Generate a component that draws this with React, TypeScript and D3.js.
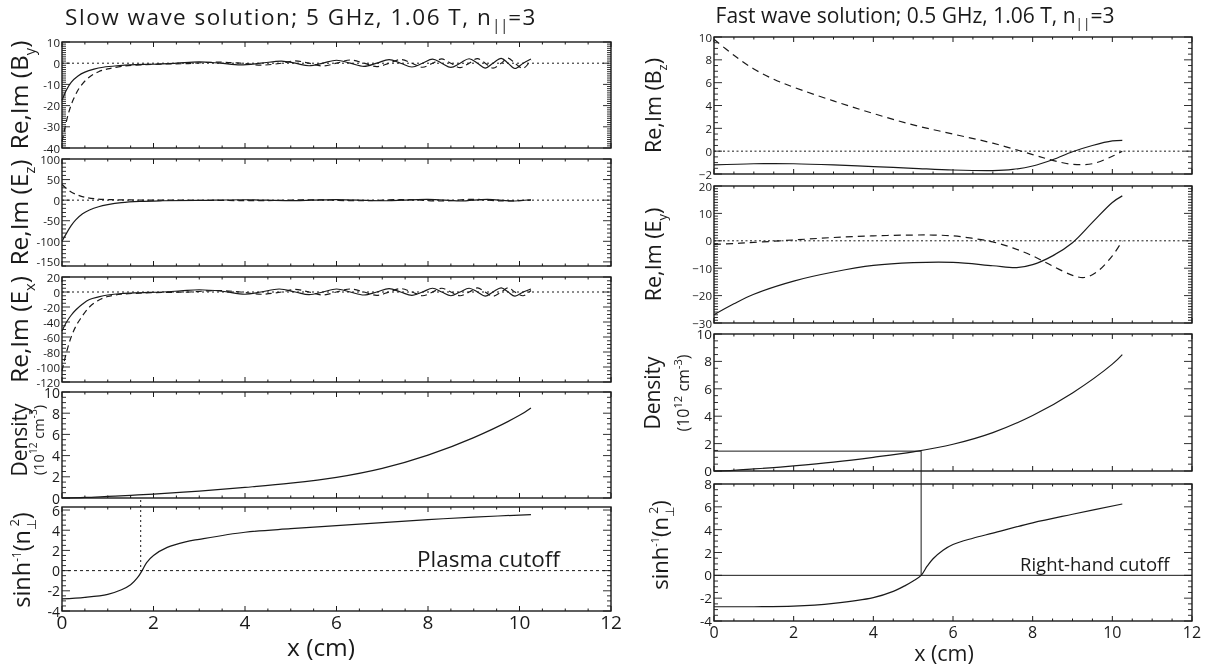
import React from 'react';
import * as d3 from 'd3';

type Pt = [number, number];

// x axis (cm)
const xTicks = [0, 2, 4, 6, 8, 10, 12];

// ---- slow wave, 5 GHz (left column) ----
const slowByRe: Pt[] = [
  [0, -17.5], [0.1, -12.5], [0.2, -9], [0.35, -6], [0.5, -4.2], [0.7, -2.8], [0.9, -1.9], [1.2, -1.2],
  [1.6, -0.7], [2.0, -0.5], [2.5, 0], [3.0, 0.6], [3.45, 0], [3.9, -0.8], [4.35, 0], [4.8, 1.0], [5.1, 0],
  [5.4, -1.2], [5.7, 0], [6.0, 1.4], [6.3, 0], [6.6, -1.5], [6.88, 0], [7.15, 1.7], [7.4, 0], [7.65, -1.8],
  [7.88, 0], [8.1, 1.9], [8.3, 0], [8.5, -2.0], [8.7, 0], [8.9, 2.1], [9.08, 0], [9.25, -2.3], [9.42, 0],
  [9.6, 2.3], [9.75, 0], [9.9, -2.5], [10.08, 0], [10.25, 2.0],
];
const slowByIm: Pt[] = [
  [0, -37], [0.08, -29], [0.15, -23], [0.25, -17], [0.4, -11], [0.6, -6.5], [0.8, -4], [1.0, -2.7],
  [1.3, -1.5], [1.7, -0.8], [2.2, -0.4], [2.7, -0.2], [3.4, 0.5], [3.9, 0], [4.35, -0.9], [4.8, 0],
  [5.1, 1.1], [5.4, 0], [5.7, -1.3], [6.0, 0], [6.3, 1.5], [6.6, 0], [6.88, -1.6], [7.15, 0], [7.4, 1.7],
  [7.65, 0], [7.88, -1.9], [8.1, 0], [8.3, 2.0], [8.5, 0], [8.7, -2.1], [8.9, 0], [9.08, 2.2], [9.25, 0],
  [9.42, -2.3], [9.6, 0], [9.75, 2.4], [9.9, 0], [10.08, -2.4], [10.25, 1.5],
];
const slowEzRe: Pt[] = [
  [0, -100], [0.1, -80], [0.2, -62], [0.3, -48], [0.45, -33], [0.6, -24], [0.8, -16], [1.0, -11],
  [1.3, -6], [1.7, -3], [2.2, -1.5], [3.0, -0.5], [4.0, 1], [5.0, -1], [6.0, 1.5], [7.0, -1.5],
  [8.0, 2], [8.7, -2], [9.3, 2], [9.8, -2], [10.25, 1],
];
const slowEzIm: Pt[] = [
  [0, 38], [0.1, 28], [0.2, 20], [0.35, 12], [0.5, 7], [0.75, 3], [1.0, 1.5], [1.5, 0.5], [2.5, 0],
  [4.5, -1], [5.5, 1], [6.5, -1.5], [7.5, 1.5], [8.3, -2], [9.0, 2], [9.6, -2], [10.25, 0],
];
const slowExRe: Pt[] = [
  [0, -52], [0.1, -40], [0.2, -31], [0.3, -24], [0.45, -16], [0.6, -10], [0.8, -6.5], [1.0, -4],
  [1.3, -2], [1.7, -1], [2.2, 0], [2.6, 1.5], [3.0, 3], [3.5, 1], [4.0, -3], [4.35, 0], [4.75, 4],
  [5.1, 0], [5.4, -3.5], [5.7, 0], [6.0, 4], [6.3, 0], [6.6, -4], [6.88, 0], [7.15, 4.5], [7.4, 0],
  [7.65, -4.5], [7.88, 0], [8.1, 5], [8.3, 0], [8.5, -5], [8.7, 0], [8.9, 5], [9.08, 0], [9.25, -5.5],
  [9.42, 0], [9.6, 5.5], [9.75, 0], [9.9, -5.5], [10.08, 0], [10.25, 4],
];
const slowExIm: Pt[] = [
  [0, -105], [0.1, -80], [0.2, -60], [0.3, -46], [0.4, -36], [0.6, -20], [0.8, -11], [1.0, -6],
  [1.3, -3], [1.7, -1.5], [2.3, -0.5], [2.8, 0], [3.4, 2], [3.9, 0], [4.35, -3], [4.8, 0], [5.1, 3.5],
  [5.4, 0], [5.7, -4], [6.0, 0], [6.3, 4], [6.6, 0], [6.88, -4.5], [7.15, 0], [7.4, 4.5], [7.65, 0],
  [7.88, -5], [8.1, 0], [8.3, 5], [8.5, 0], [8.7, -5], [8.9, 0], [9.08, 5.5], [9.25, 0], [9.42, -5.5],
  [9.6, 0], [9.75, 5.5], [9.9, 0], [10.08, -5], [10.25, 2],
];
const density: Pt[] = [
  [0, 0], [0.5, 0.05], [1, 0.15], [1.5, 0.25], [2, 0.37], [3, 0.65], [4, 1.0], [5, 1.4], [6, 1.95],
  [7, 2.8], [8, 4.05], [9, 5.7], [10, 7.8], [10.25, 8.5],
];
const slowSinh: Pt[] = [
  [0, -2.8], [0.5, -2.65], [1.0, -2.35], [1.3, -1.9], [1.5, -1.4], [1.65, -0.7], [1.75, 0], [1.85, 0.8],
  [2.0, 1.5], [2.3, 2.3], [2.7, 2.85], [3.0, 3.1], [4.0, 3.8], [5.0, 4.15], [6.0, 4.45], [7.0, 4.75],
  [8.0, 5.05], [9.0, 5.3], [10.25, 5.55],
];
const slowCutoffX = 1.72;

// ---- fast wave, 0.5 GHz (right column) ----
const fastBzRe: Pt[] = [
  [0, -1.2], [1, -1.1], [2, -1.1], [3, -1.2], [4, -1.35], [5, -1.5], [6, -1.65], [7, -1.7], [7.5, -1.6],
  [8, -1.3], [8.5, -0.75], [9, -0.05], [9.5, 0.5], [10, 0.9], [10.25, 0.95],
];
const fastBzIm: Pt[] = [
  [0, 9.8], [0.5, 8.4], [1.0, 7.2], [1.5, 6.3], [2, 5.6], [3, 4.4], [4, 3.3], [5, 2.3], [6, 1.5],
  [7, 0.7], [8, -0.3], [8.5, -0.8], [9, -1.15], [9.5, -1.1], [10, -0.45], [10.25, 0],
];
const fastEyRe: Pt[] = [
  [0, -27], [0.5, -23], [1, -19.5], [2, -14.7], [3, -11.4], [4, -9], [5, -8], [6, -7.9], [7, -9.1],
  [7.6, -9.8], [8, -8.7], [8.5, -5.5], [9, -0.7], [9.5, 6.7], [10, 14], [10.25, 16.4],
];
const fastEyIm: Pt[] = [
  [0, -1.3], [0.5, -1], [1, -0.6], [2, 0.3], [3, 1.2], [4, 1.8], [5, 2.1], [5.5, 2.1], [6, 1.8],
  [6.5, 0.9], [7, -0.4], [7.5, -2.6], [8, -5.5], [8.5, -9.2], [9, -12.6], [9.3, -13.4], [9.6, -11.5],
  [10, -5.5], [10.25, 0],
];
const fastSinh: Pt[] = [
  [0, -2.75], [1, -2.75], [2, -2.7], [3, -2.45], [4, -1.95], [4.5, -1.4], [4.8, -0.9], [5.0, -0.5],
  [5.2, 0], [5.35, 0.8], [5.5, 1.45], [5.75, 2.2], [6, 2.7], [6.5, 3.25], [7, 3.7], [8, 4.6], [9, 5.35],
  [10.25, 6.25],
];
const fastCutoffX = 5.2;
const fastCutoffDensity = 1.45;

// y tick labels
const byTicks = [-40, -30, -20, -10, 0, 10];
const ezTicks = [-150, -100, -50, 0, 50, 100];
const exTicks = [-120, -100, -80, -60, -40, -20, 0, 20];
const densTicks = [0, 2, 4, 6, 8, 10];
const slowSinhTicks = [-4, -2, 0, 2, 4, 6];
const bzTicks = [-2, 0, 2, 4, 6, 8, 10];
const eyTicks = [-30, -20, -10, 0, 10, 20];
const fastSinhTicks = [-4, -2, 0, 2, 4, 6, 8];

const FONT = "'Open Sans', 'DejaVu Sans', sans-serif";
const INK = '#1a1a1a';

interface Series { data: Pt[]; dash?: string }
interface Spec {
  left: number; right: number; top: number; bottom: number;
  domain: [number, number]; ticks: number[]; minor: number;
  tickFont: number; minus: string; series: Series[];
  zero?: string; xLabels?: { size: number; dy: number };
}

const scales = (s: Spec) => ({
  x: d3.scaleLinear().domain([0, 12]).range([s.left, s.right]),
  y: d3.scaleLinear().domain(s.domain).range([s.bottom, s.top]),
});

function Panel({ s }: { s: Spec }) {
  const { x, y } = scales(s);
  const line = d3.line<Pt>().x(d => x(d[0])).y(d => y(d[1])).curve(d3.curveCatmullRom.alpha(0.5));
  const xMinor = d3.range(0, 25).map(i => i * 0.5);
  const lo = Math.ceil(s.domain[0] / s.minor - 1e-9);
  const hi = Math.floor(s.domain[1] / s.minor + 1e-9);
  const yMinor = d3.range(lo, hi + 1).map(i => i * s.minor);
  const isMajorY = (v: number) => s.ticks.some(t => Math.abs(t - v) < 1e-6);
  const fmt = (v: number) => (v < 0 ? s.minus + Math.abs(v) : String(v));
  return (
    <g>
      {s.zero && (
        <line x1={s.left} x2={s.right} y1={y(0)} y2={y(0)} stroke={INK} strokeWidth={1}
          strokeDasharray={s.zero === 'solid' ? undefined : s.zero} />
      )}
      {s.series.map((se, i) => (
        <path key={i} d={line(se.data) || ''} fill="none" stroke={INK} strokeWidth={1.2}
          strokeDasharray={se.dash} />
      ))}
      {xMinor.map(v => {
        const len = v % 2 === 0 ? 5 : 2.5;
        return (
          <g key={'x' + v}>
            <line x1={x(v)} x2={x(v)} y1={s.top} y2={s.top + len} stroke={INK} strokeWidth={1} />
            <line x1={x(v)} x2={x(v)} y1={s.bottom} y2={s.bottom - len} stroke={INK} strokeWidth={1} />
          </g>
        );
      })}
      {yMinor.map(v => {
        const len = isMajorY(v) ? 8 : 4;
        return (
          <g key={'y' + v}>
            <line x1={s.left} x2={s.left + len} y1={y(v)} y2={y(v)} stroke={INK} strokeWidth={0.9} />
            <line x1={s.right} x2={s.right - len} y1={y(v)} y2={y(v)} stroke={INK} strokeWidth={0.9} />
          </g>
        );
      })}
      <rect x={s.left} y={s.top} width={s.right - s.left} height={s.bottom - s.top}
        fill="none" stroke={INK} strokeWidth={1.4} />
      {s.ticks.map(t => (
        <text key={'t' + t} x={s.left - 2} y={y(t)} fontSize={s.tickFont} textAnchor="end"
          dominantBaseline="central" fill={INK}>{fmt(t)}</text>
      ))}
      {s.xLabels && xTicks.map(t => (
        <text key={'xl' + t} x={x(t)} y={s.bottom + s.xLabels!.dy} fontSize={s.xLabels!.size}
          textAnchor="middle" fill={INK}>{t}</text>
      ))}
    </g>
  );
}

const sub = (t: string, size: number) => (
  <>
    <tspan dy={size * 0.3} fontSize={size * 0.6}>{t}</tspan>
    <tspan dy={-size * 0.3}>{')'}</tspan>
  </>
);

function ReIm({ cx, cy, size, comp, label }: { cx: number; cy: number; size: number; comp: string; label: string }) {
  return (
    <text transform={`translate(${cx},${cy}) rotate(-90)`} textAnchor="middle" fontSize={size} fill={INK}>
      {'Re,Im (' + comp}{sub(label, size)}
    </text>
  );
}

function DensityLabel({ cx, cy, size, small, gap }: { cx: number; cy: number; size: number; small: number; gap: number }) {
  return (
    <g transform={`translate(${cx},${cy}) rotate(-90)`} fill={INK}>
      <text textAnchor="middle" fontSize={size}>Density</text>
      <text textAnchor="middle" y={gap} fontSize={small}>
        (10<tspan dy={-small * 0.45} fontSize={small * 0.7}>12</tspan>
        <tspan dy={small * 0.45}> cm</tspan>
        <tspan dy={-small * 0.45} fontSize={small * 0.7}>-3</tspan>
        <tspan dy={small * 0.45}>)</tspan>
      </text>
    </g>
  );
}

function SinhLabel({ cx, cy, size }: { cx: number; cy: number; size: number }) {
  return (
    <text transform={`translate(${cx},${cy}) rotate(-90)`} textAnchor="middle" fontSize={size} fill={INK}>
      sinh<tspan dy={-size * 0.4} fontSize={size * 0.5}>-1</tspan>
      <tspan dy={size * 0.4}>(n</tspan>
      <tspan dy={size * 0.25} fontSize={size * 0.55}>⊥</tspan>
      <tspan dx={-size * 0.33} dy={-size * 0.7} fontSize={size * 0.55}>2</tspan>
      <tspan dy={size * 0.45}>)</tspan>
    </text>
  );
}

export default function App() {
  const L = { left: 62, right: 611 };
  const R = { left: 714, right: 1192 };
  const dash = '6,4';

  const slow: Spec[] = [
    { ...L, top: 42, bottom: 148, domain: [-40, 10], ticks: byTicks, minor: 1, tickFont: 11.5, minus: '-',
      zero: '2,3', series: [{ data: slowByRe }, { data: slowByIm, dash }] },
    { ...L, top: 159, bottom: 266, domain: [-160, 100], ticks: ezTicks, minor: 10, tickFont: 11.5, minus: '-',
      zero: '2,3', series: [{ data: slowEzRe }, { data: slowEzIm, dash }] },
    { ...L, top: 277, bottom: 382, domain: [-120, 20], ticks: exTicks, minor: 5, tickFont: 11.5, minus: '-',
      zero: '2,3', series: [{ data: slowExRe }, { data: slowExIm, dash }] },
    { ...L, top: 392, bottom: 498, domain: [0, 10], ticks: densTicks, minor: 0.5, tickFont: 14, minus: '-',
      series: [{ data: density }] },
    { ...L, top: 507, bottom: 611, domain: [-4, 6.3], ticks: slowSinhTicks, minor: 0.5, tickFont: 14, minus: '-',
      zero: '3,3', series: [{ data: slowSinh }], xLabels: { size: 19, dy: 18 } },
  ];
  const fast: Spec[] = [
    { ...R, top: 37, bottom: 174, domain: [-2, 10], ticks: bzTicks, minor: 0.5, tickFont: 11.5, minus: '−',
      zero: '2,2.5', series: [{ data: fastBzRe }, { data: fastBzIm, dash: '7,5' }] },
    { ...R, top: 186, bottom: 323, domain: [-30, 20], ticks: eyTicks, minor: 1, tickFont: 11.5, minus: '−',
      zero: '2,2.5', series: [{ data: fastEyRe }, { data: fastEyIm, dash: '7,5' }] },
    { ...R, top: 334, bottom: 471, domain: [0, 10], ticks: densTicks, minor: 0.5, tickFont: 13.5, minus: '-',
      series: [{ data: density }] },
    { ...R, top: 484, bottom: 621, domain: [-4, 8], ticks: fastSinhTicks, minor: 0.5, tickFont: 13.5, minus: '-',
      zero: 'solid', series: [{ data: fastSinh }], xLabels: { size: 16, dy: 17 } },
  ];

  const ss = scales(slow[4]);
  const fd = scales(fast[2]);
  const fs = scales(fast[3]);
  const cy = (s: Spec) => (s.top + s.bottom) / 2;

  return (
    <svg width={1214} height={669}
      style={{ position: 'absolute', left: 0, top: 0, fontFamily: FONT, willChange: 'transform' }}>
      <rect width={1214} height={669} fill="#fff" />
      <text x={301} y={24.5} fontSize={22.5} letterSpacing={1.5} textAnchor="middle" fill={INK}>
        Slow wave solution; 5 GHz, 1.06 T, n<tspan dy={5} fontSize={14.5} letterSpacing={0}>||</tspan><tspan dy={-5}>=3</tspan>
      </text>
      <text x={915} y={23} fontSize={21} textAnchor="middle" fill={INK}>
        Fast wave solution; 0.5 GHz, 1.06 T, n<tspan dy={5} fontSize={13.5}>||</tspan><tspan dy={-5}>=3</tspan>
      </text>

      {slow.map((s, i) => <Panel key={'s' + i} s={s} />)}
      {fast.map((s, i) => <Panel key={'f' + i} s={s} />)}

      {/* cutoff markers */}
      <line x1={ss.x(slowCutoffX)} x2={ss.x(slowCutoffX)} y1={slow[3].bottom + 2} y2={ss.y(0)}
        stroke={INK} strokeWidth={1} strokeDasharray="2,3" />
      <text x={417} y={567} fontSize={22.5} fill={INK}>Plasma cutoff</text>
      <line x1={fd.x(0)} x2={fd.x(fastCutoffX)} y1={fd.y(fastCutoffDensity)} y2={fd.y(fastCutoffDensity)}
        stroke={INK} strokeWidth={1} />
      <line x1={fd.x(fastCutoffX)} x2={fd.x(fastCutoffX)} y1={fd.y(fastCutoffDensity)} y2={fs.y(0)}
        stroke={INK} strokeWidth={1} />
      <text x={1020} y={571} fontSize={18.5} fill={INK}>Right-hand cutoff</text>

      {/* y labels */}
      <ReIm cx={28} cy={cy(slow[0])} size={24.5} comp="B" label="y" />
      <ReIm cx={28} cy={cy(slow[1])} size={24.5} comp="E" label="z" />
      <ReIm cx={28} cy={cy(slow[2])} size={24.5} comp="E" label="x" />
      <DensityLabel cx={27} cy={440} size={21} small={14.5} gap={17} />
      <SinhLabel cx={30} cy={560} size={23.5} />

      <ReIm cx={661} cy={cy(fast[0])} size={21.5} comp="B" label="z" />
      <ReIm cx={661} cy={cy(fast[1])} size={21.5} comp="E" label="y" />
      <DensityLabel cx={660} cy={393} size={21} small={16} gap={29} />
      <SinhLabel cx={668} cy={545} size={22} />

      <text x={321} y={656} fontSize={24.5} textAnchor="middle" fill={INK}>x (cm)</text>
      <text x={944} y={661} fontSize={21.5} textAnchor="middle" fill={INK}>x (cm)</text>
    </svg>
  );
}
